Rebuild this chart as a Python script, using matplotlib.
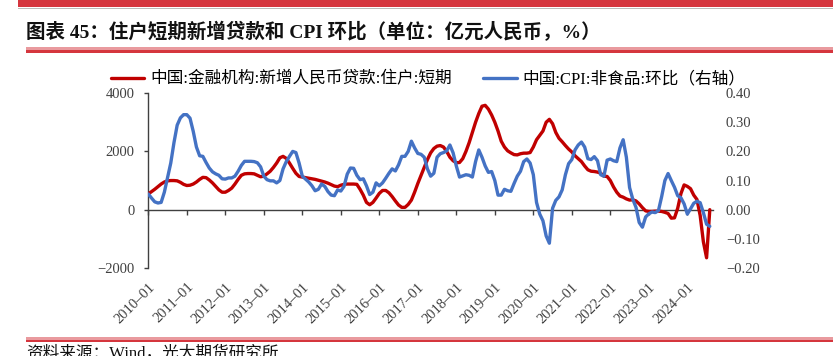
import matplotlib
matplotlib.use('Agg')
import matplotlib.pyplot as plt
from matplotlib.patches import Rectangle
from matplotlib.font_manager import FontProperties
from matplotlib.ticker import FuncFormatter
import numpy as np

# ---------------- data ----------------
title = "图表 45：住户短期新增贷款和 CPI 环比（单位：亿元人民币，%）"
series_names = ["中国:金融机构:新增人民币贷款:住户:短期", "中国:CPI:非食品:环比（右轴）"]
source = "资料来源：Wind，光大期货研究所"

tick_labels = ["2010-01", "2011-01", "2012-01", "2013-01", "2014-01", "2015-01", "2016-01",
               "2017-01", "2018-01", "2019-01", "2020-01", "2021-01", "2022-01", "2023-01",
               "2024-01"]

# monthly, 2010-01 ... 2024-08 (亿元)
loans_short = [540, 620, 700, 790, 880, 950, 990, 1000, 1000, 990, 940, 870,
               830, 840, 880, 950, 1040, 1110, 1100, 1020, 920, 800, 680, 600,
               600, 660, 740, 880, 1040, 1180, 1230, 1240, 1240, 1230, 1180, 1130,
               1150, 1230, 1320, 1450, 1600, 1780, 1830, 1760, 1600, 1420, 1250, 1140,
               1120, 1100, 1080, 1060, 1040, 1010, 980, 950, 910, 860, 810, 790,
               840, 870, 880, 880, 880, 870, 700, 500, 250, 170, 250, 400,
               560, 660, 660, 580, 450, 300, 160, 80, 80, 180, 330, 600,
               900, 1180, 1450, 1720, 1950, 2100, 2180, 2200, 2150, 2000, 1800, 1680,
               1610, 1620, 1750, 2000, 2300, 2650, 3000, 3300, 3550, 3580, 3450, 3250,
               3000, 2700, 2350, 2150, 2020, 1950, 1890, 1880, 1920, 1940, 1940, 1960,
               2150, 2400, 2550, 2700, 3000, 3100, 2950, 2650, 2450, 2330, 2200, 2080,
               1980, 1850, 1750, 1650, 1500, 1370, 1320, 1310, 1290, 1250, 1150, 1140,
               1000, 780, 600, 470, 430, 370, 330, 340, 300, 200, 70, -40,
               -60, -60, -50, -50, -60, -90, -130, -290, -280, 50, 550, 850,
               800, 720, 500, 350, -200, -1100, -1650, 0]

# monthly, 2010-01 ... 2024-08 (%)
cpi_nonfood_mom = [0.054, 0.040, 0.027, 0.023, 0.025, 0.060, 0.110, 0.160, 0.230, 0.290, 0.315, 0.326,
                   0.326, 0.314, 0.269, 0.215, 0.185, 0.183, 0.162, 0.143, 0.130, 0.123, 0.118, 0.106,
                   0.105, 0.109, 0.109, 0.115, 0.132, 0.152, 0.166, 0.166, 0.166, 0.165, 0.161, 0.147,
                   0.115, 0.103, 0.099, 0.099, 0.092, 0.100, 0.140, 0.165, 0.183, 0.200, 0.196, 0.160,
                   0.115, 0.105, 0.095, 0.082, 0.065, 0.070, 0.088, 0.080, 0.062, 0.050, 0.048, 0.068,
                   0.064, 0.080, 0.122, 0.143, 0.142, 0.118, 0.103, 0.106, 0.082, 0.052, 0.060, 0.092,
                   0.082, 0.092, 0.108, 0.125, 0.140, 0.133, 0.154, 0.183, 0.183, 0.200, 0.235, 0.212,
                   0.193, 0.190, 0.180, 0.140, 0.115, 0.125, 0.180, 0.192, 0.196, 0.202, 0.222, 0.195,
                   0.150, 0.112, 0.116, 0.120, 0.118, 0.112, 0.165, 0.205, 0.180, 0.150, 0.128, 0.131,
                   0.100, 0.050, 0.050, 0.070, 0.065, 0.063, 0.090, 0.115, 0.132, 0.165, 0.174, 0.160,
                   0.120, 0.025, -0.015, -0.038, -0.090, -0.115, 0.005, 0.032, 0.044, 0.068, 0.120, 0.158,
                   0.172, 0.205, 0.222, 0.232, 0.215, 0.175, 0.172, 0.182, 0.168, 0.120, 0.115, 0.170,
                   0.174, 0.168, 0.165, 0.212, 0.240, 0.180, 0.076, 0.036, 0.008, -0.044, -0.060, -0.025,
                   -0.014, -0.008, -0.010, -0.003, 0.045, 0.100, 0.124, 0.100, 0.077, 0.048, 0.041, 0.020,
                   -0.015, 0.003, 0.022, 0.029, 0.024, -0.010, -0.050, -0.057]

left_ticks = [-2000, 0, 2000, 4000]
right_ticks = [-0.20, -0.10, 0.00, 0.10, 0.20, 0.30, 0.40]

# ---------------- figure ----------------
W, H = 833, 356
fig = plt.figure(figsize=(W / 100, H / 100), dpi=100)
fig.patch.set_facecolor('white')


def fx(px):
    return px / W


def fy(py):
    return 1 - py / H


FAM = ['Liberation Serif', 'Noto Sans CJK SC']
RED_BAND = '#D5363E'
PINK = '#E99A9E'


def band(x0, y0, x1, y1, color):
    fig.patches.append(Rectangle((fx(x0), fy(y1)), fx(x1) - fx(x0), fy(y0) - fy(y1),
                                 transform=fig.transFigure, facecolor=color,
                                 edgecolor='none', zorder=0))


band(18, 0, 833, 7, RED_BAND)
band(18, 7.5, 833, 9, '#BBBBBB')
band(26, 47.5, 833, 50, PINK)
band(26, 50, 833, 53, RED_BAND)
band(26, 337, 833, 339.5, PINK)
band(26, 339.5, 833, 342, RED_BAND)

fig.text(fx(26), fy(32), title, fontsize=14, fontweight='bold', family=FAM,
         va='center', ha='left', color='#111111')

ax = fig.add_axes([fx(148.3), fy(268), fx(713) - fx(148.3), fy(93.1) - fy(268)])
ax2 = ax.twinx()

x = np.arange(len(loans_short))
l1, = ax.plot(x, loans_short, color='#C00000', lw=2.4, solid_capstyle='round', zorder=3)
l2, = ax2.plot(np.arange(len(cpi_nonfood_mom)), cpi_nonfood_mom, color='#4472C4', lw=2.4,
               solid_capstyle='round')

ax.set_xlim(0, 176)
ax.set_ylim(-2000, 4000)
ax2.set_ylim(-0.2, 0.4)

AXC = '#404040'
for s in ['top', 'right']:
    ax.spines[s].set_visible(False)
for s in ax2.spines.values():
    s.set_visible(False)
ax.spines['left'].set_color(AXC)
ax.spines['left'].set_linewidth(1.0)
ax.spines['bottom'].set_position(('data', 0))
ax.spines['bottom'].set_color(AXC)
ax.spines['bottom'].set_linewidth(1.0)

tick_pos = [12 * i for i in range(len(tick_labels))]
ax.set_xticks(tick_pos)
ax.tick_params(axis='x', direction='out', length=3.5, width=1, color=AXC, labelbottom=False)

ax.set_yticks(left_ticks)
ax.set_yticklabels([f"{v:d}".replace('-', '\u2212') for v in left_ticks])
ax.tick_params(axis='y', direction='out', length=3, width=1, color=AXC, pad=7,
               labelsize=10.5, labelcolor=AXC)
for t in ax.get_yticklabels():
    t.set_family(FAM)

ax2.set_yticks(right_ticks)
ax2.yaxis.set_major_formatter(FuncFormatter(lambda v, p: f"{v:.2f}".replace('-', '\u2212')))
ax2.tick_params(axis='y', length=0, pad=9.2, labelsize=10.5, labelcolor=AXC)
for t in ax2.get_yticklabels():
    t.set_family(FAM)

sec = ax.secondary_xaxis('bottom')
sec.set_xticks(tick_pos)
sec.set_xticklabels([s.replace('-', '\u2013') for s in tick_labels])
sec.tick_params(length=0, pad=9, labelsize=10.5, labelcolor=AXC)
sec.spines['bottom'].set_visible(False)
for t in sec.get_xticklabels():
    t.set_rotation(45)
    t.set_ha('right')
    t.set_va('top')
    t.set_rotation_mode('anchor')
    t.set_family(FAM)

prop = FontProperties(family=FAM, size=12)
fig.legend([l1, l2], series_names, loc='center left',
           bbox_to_anchor=(fx(110.7), fy(79.5)), ncol=2, frameon=False, prop=prop,
           handlelength=2.0, handletextpad=0.36, columnspacing=1.9,
           borderpad=0, borderaxespad=0)

fig.text(fx(26), fy(345), source, fontsize=12, family=FAM, va='top', ha='left',
         color='#111111')

fig.savefig('out.png', dpi=100, facecolor='white')
